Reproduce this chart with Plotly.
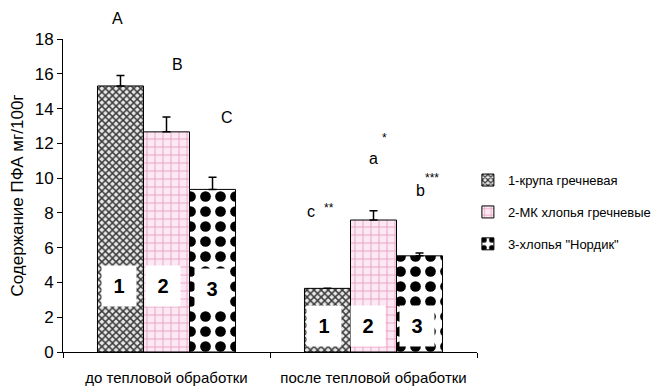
import plotly.graph_objects as go

categories = ["до тепловой обработки", "после тепловой обработки"]
series_names = ["1-крупа гречневая", "2-МК хлопья гречневые", '3-хлопья "Нордик"']
values_1 = [15.3, 3.66]
values_2 = [12.66, 7.59]
values_3 = [9.35, 5.53]
errors_1 = [0.6, 0.0]
errors_2 = [0.86, 0.53]
errors_3 = [0.7, 0.17]
bar_numbers = ["1", "2", "3"]

REG = "Liberation Sans, Arial"

styles = [
    dict(color="#d8d8d8", pattern=dict(shape="x", fgcolor="#3a3a3a", bgcolor="#e8e8e8",
                                       size=5, solidity=0.5, fgopacity=1)),
    dict(color="#fce8f2", pattern=dict(shape="+", fgcolor="#e79ac0", bgcolor="#fce8f2",
                                       size=8, solidity=0.2, fgopacity=1)),
    dict(color="white", pattern=dict(shape=".", fgcolor="black", bgcolor="white",
                                     size=15, solidity=0.4, fgopacity=1)),
]

fig = go.Figure()
for name, vals, errs, st in zip(series_names, [values_1, values_2, values_3],
                                [errors_1, errors_2, errors_3], styles):
    fig.add_trace(go.Bar(
        x=categories, y=vals, name=name, legendgroup=name,
        marker=dict(color=st["color"], pattern=st["pattern"],
                    line=dict(color="black", width=1)),
        error_y=dict(type="data", symmetric=False, array=errs,
                     arrayminus=[0] * len(errs), color="black",
                     thickness=1.5, width=4),
    ))

# letter / significance annotations: (category, y, text, xshift, size)
letters = [
    (categories[0], 16.55, "B", 11, 16),
    (categories[0], 13.5, "C", 60, 16),
    (categories[1], 8.1, "c", -63, 16),
    (categories[1], 8.3, "**", -45, 12),
    (categories[1], 11.15, "a", 0, 16),
    (categories[1], 12.3, "*", 11, 12),
    (categories[1], 9.3, "b", 47, 16),
    (categories[1], 10.0, "***", 58, 12),
]
annotations = [dict(x=categories[0], y=1.067, xref="x", yref="paper", text="A",
                    showarrow=False, xshift=-49, yanchor="middle",
                    font=dict(family=REG, size=16, color="black"))]
for cat, yv, txt, xs, fs in letters:
    annotations.append(dict(x=cat, y=yv, xref="x", yref="y", text=txt,
                            showarrow=False, xshift=xs,
                            font=dict(family=REG, size=fs, color="black")))

box_y = [[3.82, 3.77, 3.6], [1.5, 1.5, 1.5]]
box_shift = [-48, -4, 45]
for ci, cat in enumerate(categories):
    for bi, num in enumerate(bar_numbers):
        annotations.append(dict(x=cat, y=box_y[ci][bi], xref="x", yref="y",
                                text="<b>%s</b>" % num, showarrow=False,
                                xshift=box_shift[bi] + (-2 if ci == 1 else 0),
                                width=32, height=38, bgcolor="white",
                                font=dict(family=REG, size=20, color="black")))

fig.update_layout(
    width=662, height=383,
    margin=dict(l=55, r=193, t=31, b=39, autoexpand=False),
    paper_bgcolor="white", plot_bgcolor="white",
    barmode="group", bargap=0.333, bargroupgap=0,
    font=dict(family=REG, color="black"),
    showlegend=True,
    legend=dict(x=0.978, y=0.447, xanchor="left", yanchor="middle",
                font=dict(family=REG, size=13, color="black"),
                traceorder="grouped", tracegroupgap=12,
                itemwidth=30, bgcolor="rgba(0,0,0,0)"),
    annotations=annotations,
    xaxis=dict(showline=True, linecolor="black", linewidth=1,
               ticks="outside", tickson="boundaries", ticklen=5,
               tickcolor="black", showgrid=False, ticklabelstandoff=12,
               tickfont=dict(family=REG, size=15, color="black")),
    yaxis=dict(range=[0, 18], dtick=2, showline=True, linecolor="black",
               linewidth=1, ticks="outside", ticklen=5, tickcolor="black",
               showgrid=False, zeroline=False,
               tickfont=dict(family=REG, size=17, color="black"),
               title=dict(text="Содержание ПФА мг/100г",
                          font=dict(family=REG, size=17, color="black"),
                          standoff=8)),
)

fig.write_html("out.html")
